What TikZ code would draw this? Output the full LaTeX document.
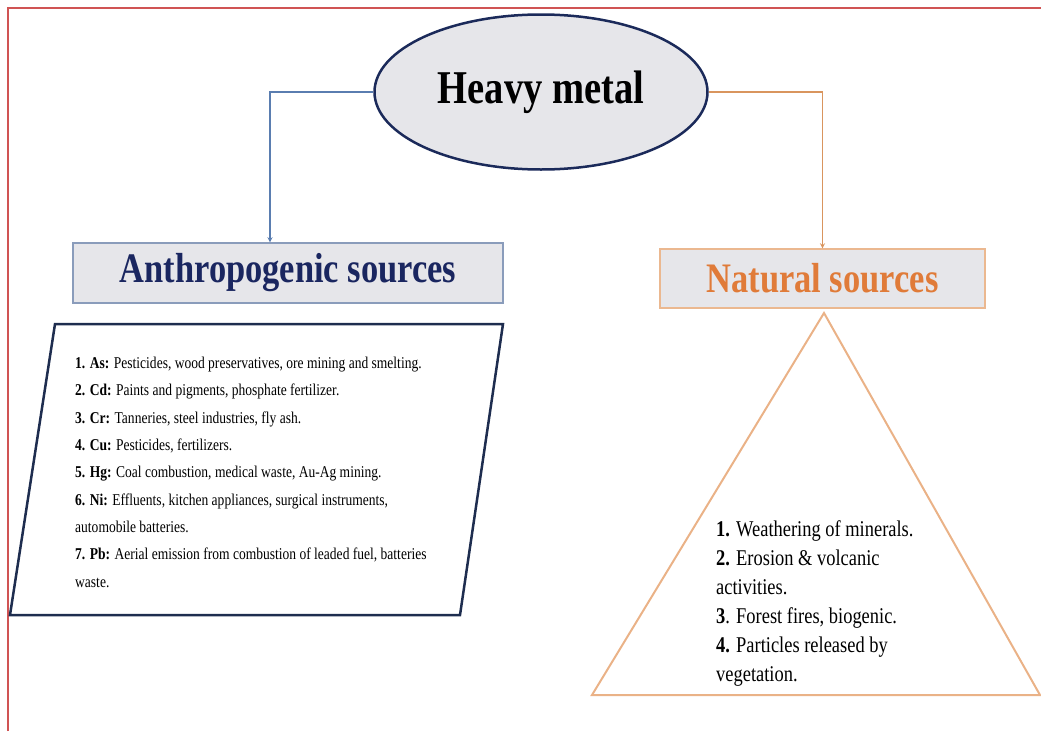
\documentclass[tikz,border=0pt]{standalone}
\usepackage{fontspec}
\setmainfont[FakeStretch=0.82]{Liberation Serif}
\usepackage{tikz}
\usetikzlibrary{shapes,arrows,positioning,calc}

\definecolor{framered}{HTML}{D05454}
\definecolor{boxgray}{HTML}{E6E6EA}
\definecolor{navyline}{HTML}{1B2A5A}
\definecolor{navytext}{HTML}{1A2660}
\definecolor{bluelink}{HTML}{5A7DB0}
\definecolor{blueedge}{HTML}{8A9CBB}
\definecolor{orangetext}{HTML}{E07B39}
\definecolor{orangelink}{HTML}{D9955E}
\definecolor{orangeedge}{HTML}{EBB890}
\definecolor{listline}{HTML}{1E2D4F}

\begin{document}
\begin{tikzpicture}[
    x=1pt, y=-1pt,
    every node/.style={font=\fontsize{16.5}{27.3}\selectfont},
    title/.style={ellipse, draw=navyline, line width=2.5pt, fill=boxgray, minimum width=333pt, minimum height=155pt, inner sep=0pt, font=\fontsize{47}{50}\selectfont\bfseries},
    source/.style={rectangle, line width=1.2pt, fill=boxgray, inner sep=0pt, font=\fontsize{42}{46}\selectfont\bfseries},
    listtext/.style={anchor=north west, align=left, inner sep=0pt},
    arrow/.style={line width=1.3pt,->,>=stealth}
]
\useasboundingbox (0,0) rectangle (1041,731);

% frame
\draw[framered, line width=2pt] (8,731) -- (8,8) -- (1041,8);

% top and the two sources
\node[title] (heavy) at (541,92) {Heavy metal};
\node[source, draw=blueedge, text=navytext, minimum width=430pt, minimum height=60pt] (anthro) at (288,273) {Anthropogenic sources};
\node[source, draw=orangeedge, text=orangetext, minimum width=325pt, minimum height=59pt] (natural) at (822.5,278.5) {Natural sources};

\draw[arrow, bluelink] (heavy.west) -| ([xshift=-18pt]anthro.north);
\draw[arrow, orangelink] (heavy.east) -| (natural.north);

% anthropogenic list
\draw[listline, line width=2.5pt] (55,324) -- (503,324) -- (460,615) -- (10,615) -- cycle;
\node[listtext] (anthrolist) at (75,357) {%
\textbf{1. As:} Pesticides, wood preservatives, ore mining and smelting.\\
\textbf{2. Cd:} Paints and pigments, phosphate fertilizer.\\
\textbf{3. Cr:} Tanneries, steel industries, fly ash.\\
\textbf{4. Cu:} Pesticides, fertilizers.\\
\textbf{5. Hg:} Coal combustion, medical waste, Au-Ag mining.\\
\textbf{6. Ni:} Effluents, kitchen appliances, surgical instruments,\\
automobile batteries.\\
\textbf{7. Pb:} Aerial emission from combustion of leaded fuel, batteries\\
waste.};

% natural list
\draw[orangeedge!90!orangetext, line width=2pt] (824,313) -- (1040,695) -- (592,695) -- cycle;
\node[listtext, font=\fontsize{22.5}{29}\selectfont] (naturallist) at (716,520) {%
\textbf{1.} Weathering of minerals.\\
\textbf{2.} Erosion \& volcanic\\
activities.\\
\textbf{3}. Forest fires, biogenic.\\
\textbf{4.} Particles released by\\
vegetation.};
\end{tikzpicture}
\end{document}
